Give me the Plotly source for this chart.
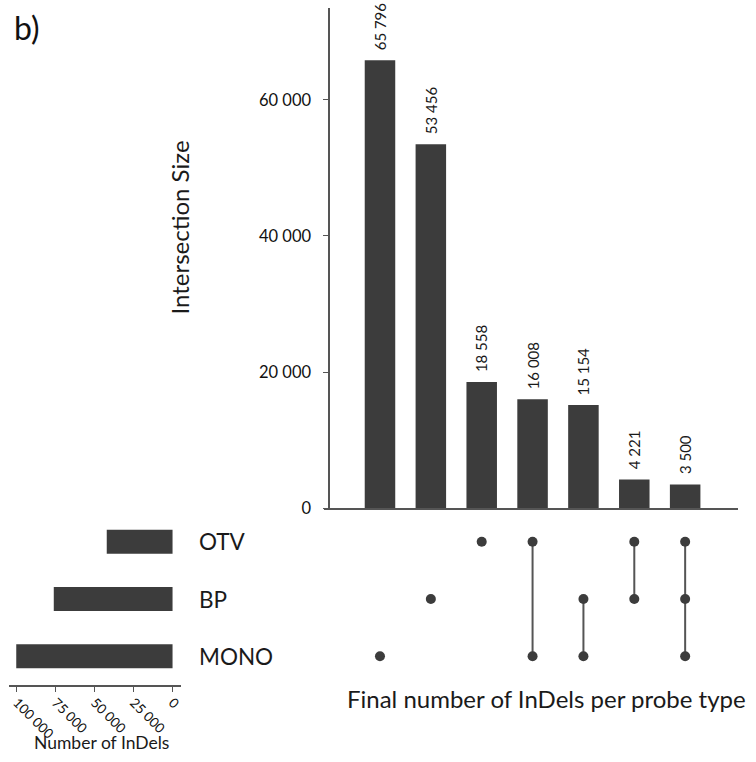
import plotly.graph_objects as go

# ---- data ----
intersections = ["MONO", "BP", "OTV", "OTV&MONO", "BP&MONO", "OTV&BP", "OTV&BP&MONO"]
intersection_sizes = [65796, 53456, 18558, 16008, 15154, 4221, 3500]
memberships = [["MONO"], ["BP"], ["OTV"], ["OTV", "MONO"], ["BP", "MONO"], ["OTV", "BP"], ["OTV", "BP", "MONO"]]
set_names = ["OTV", "BP", "MONO"]
set_sizes = [42287, 76331, 100458]
y_tickvals = [0, 20000, 40000, 60000]
y_ticktext = ["0", "20 000", "40 000", "60 000"]
x3_tickvals = [100000, 75000, 50000, 25000, 0]
x3_ticktext = ["100 000", "75 000", "50 000", "25 000", "0"]

W, H = 756, 762
FONT = "Lato"
DARK = "#3c3c3c"
AX = "#555555"
TXT = "#1a1a1a"

def px(x):
    return x / W

def py(y):
    return 1 - y / H

def fmt(v):
    return f"{v:,}".replace(",", " ")

set_row = {"OTV": 2, "BP": 1, "MONO": 0}
cols = list(range(len(intersections)))

fig = go.Figure()

# top intersection bars
fig.add_trace(go.Bar(x=cols, y=intersection_sizes, marker_color=DARK, marker_line_width=0,
                     width=0.6, xaxis="x", yaxis="y", hoverinfo="skip"))

# matrix lines and dots
for c, mem in zip(cols, memberships):
    rows = [set_row[m] for m in mem]
    if len(rows) > 1:
        fig.add_trace(go.Scatter(x=[c, c], y=[min(rows), max(rows)], mode="lines",
                                 line=dict(color=AX, width=2), xaxis="x2", yaxis="y2",
                                 hoverinfo="skip"))
    fig.add_trace(go.Scatter(x=[c] * len(rows), y=rows, mode="markers",
                             marker=dict(color=DARK, size=10), xaxis="x2", yaxis="y2",
                             hoverinfo="skip"))

# set size bars
fig.add_trace(go.Bar(y=[set_row[s] for s in set_names], x=set_sizes, orientation="h",
                     marker_color=DARK, marker_line_width=0, width=0.42,
                     xaxis="x3", yaxis="y3", hoverinfo="skip"))

annotations = []
for c, v in zip(cols, intersection_sizes):
    annotations.append(dict(x=c, y=v, xref="x", yref="y", text=fmt(v), textangle=-90,
                            showarrow=False, xanchor="center", yanchor="bottom", yshift=8,
                            font=dict(family=FONT, size=15, color=TXT)))
for s in set_names:
    annotations.append(dict(x=px(198), y=set_row[s], xref="paper", yref="y3", text=s,
                            showarrow=False, xanchor="left", yanchor="middle",
                            font=dict(family=FONT, size=22.5, color=TXT)))
annotations += [
    dict(x=px(180), y=py(231), xref="paper", yref="paper", text="Intersection Size",
         textangle=-90, showarrow=False, xanchor="center", yanchor="middle",
         font=dict(family=FONT, size=24, color=TXT)),
    dict(x=px(548), y=py(708), xref="paper", yref="paper",
         text="Final number of InDels per probe type", showarrow=False,
         xanchor="center", yanchor="middle", font=dict(family=FONT, size=24, color=TXT)),
    dict(x=px(102), y=py(752), xref="paper", yref="paper", text="Number of InDels",
         showarrow=False, xanchor="center", yanchor="middle",
         font=dict(family=FONT, size=17.5, color=TXT)),
    dict(x=px(12), y=py(28), xref="paper", yref="paper", text="b)", showarrow=False,
         xanchor="left", yanchor="middle", font=dict(family=FONT, size=32, color="#111111")),
]

fig.update_layout(
    width=W, height=H, margin=dict(l=0, r=0, t=0, b=0),
    paper_bgcolor="white", plot_bgcolor="white", showlegend=False,
    font=dict(family=FONT, color=TXT),
    xaxis=dict(domain=[px(325), px(740)], range=[-1.098, 7.04], showticklabels=False,
               showgrid=False, zeroline=False, showline=True, linecolor=AX, linewidth=1.5,
               ticks="", anchor="y", fixedrange=True),
    yaxis=dict(domain=[py(515), py(8)], range=[0, 73500], tickvals=y_tickvals,
               ticktext=y_ticktext, ticks="outside", ticklen=5, tickcolor=AX,
               ticklabelstandoff=9, tickfont=dict(family=FONT, size=16.5, color="#111111"),
               showgrid=False, zeroline=False, showline=True, linecolor=AX, linewidth=1.5,
               anchor="free", position=px(330)),
    xaxis2=dict(domain=[px(325), px(740)], range=[-1.098, 7.04], visible=False, anchor="y2"),
    yaxis2=dict(domain=[py(694), py(520)], range=[-0.5, 2.5], visible=False, anchor="x2"),
    xaxis3=dict(domain=[px(9), px(181)], range=[105128, -5128], tickvals=x3_tickvals,
                ticktext=x3_ticktext, tickangle=45, ticks="outside", ticklen=5,
                ticklabelstandoff=-2,
                tickcolor=AX, tickfont=dict(family=FONT, size=13.5, color="#111111"),
                showgrid=False, zeroline=False, showline=True, linecolor=AX, linewidth=1.5,
                anchor="y3"),
    yaxis3=dict(domain=[py(694), py(520)], range=[-0.5, 2.5], visible=False, anchor="x3"),
    annotations=annotations,
)

fig.write_html("out.html")
